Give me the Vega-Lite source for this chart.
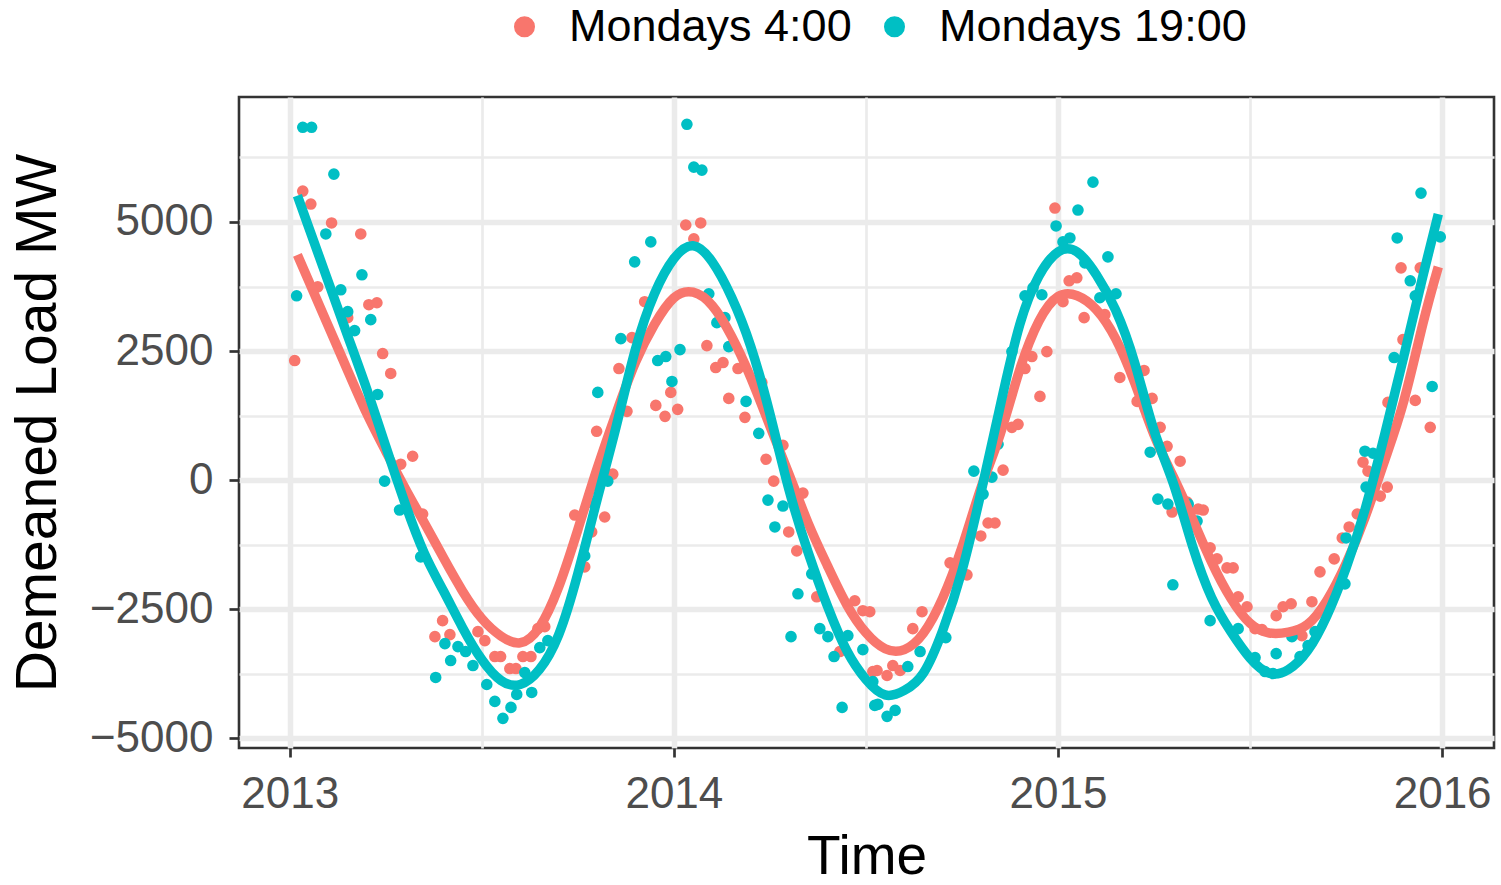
{
  "$schema": "https://vega.github.io/schema/vega-lite/v6.json",
  "width": 1255,
  "height": 651,
  "autosize": {"type": "none"},
  "padding": {"left": 239, "top": 97, "right": 7, "bottom": 137},
  "background": "white",
  "config": {
    "font": "Liberation Sans",
    "view": {"stroke": "#333333", "strokeWidth": 2.6},
    "axis": {
      "domain": false,
      "gridColor": "#EBEBEB",
      "tickColor": "#333333",
      "tickWidth": 2.7,
      "labelColor": "#4D4D4D",
      "labelFontSize": 44,
      "labelOverlap": false,
      "labelFlush": false,
      "titleColor": "#000000",
      "titleFontWeight": "normal",
      "titleFontSize": 56
    }
  },
  "datasets": {
    "points": [
      {"Time": 2013.013, "Load": 2317, "Series": "Mondays 4:00"},
      {"Time": 2013.034, "Load": 5598, "Series": "Mondays 4:00"},
      {"Time": 2013.055, "Load": 5348, "Series": "Mondays 4:00"},
      {"Time": 2013.073, "Load": 3745, "Series": "Mondays 4:00"},
      {"Time": 2013.109, "Load": 4981, "Series": "Mondays 4:00"},
      {"Time": 2013.151, "Load": 3147, "Series": "Mondays 4:00"},
      {"Time": 2013.185, "Load": 4768, "Series": "Mondays 4:00"},
      {"Time": 2013.206, "Load": 3398, "Series": "Mondays 4:00"},
      {"Time": 2013.227, "Load": 3436, "Series": "Mondays 4:00"},
      {"Time": 2013.242, "Load": 2452, "Series": "Mondays 4:00"},
      {"Time": 2013.263, "Load": 2066, "Series": "Mondays 4:00"},
      {"Time": 2013.289, "Load": 309, "Series": "Mondays 4:00"},
      {"Time": 2013.320, "Load": 463, "Series": "Mondays 4:00"},
      {"Time": 2013.346, "Load": -656, "Series": "Mondays 4:00"},
      {"Time": 2013.378, "Load": -3031, "Series": "Mondays 4:00"},
      {"Time": 2013.398, "Load": -2722, "Series": "Mondays 4:00"},
      {"Time": 2013.417, "Load": -2992, "Series": "Mondays 4:00"},
      {"Time": 2013.490, "Load": -2934, "Series": "Mondays 4:00"},
      {"Time": 2013.508, "Load": -3108, "Series": "Mondays 4:00"},
      {"Time": 2013.534, "Load": -3417, "Series": "Mondays 4:00"},
      {"Time": 2013.549, "Load": -3417, "Series": "Mondays 4:00"},
      {"Time": 2013.573, "Load": -3649, "Series": "Mondays 4:00"},
      {"Time": 2013.589, "Load": -3649, "Series": "Mondays 4:00"},
      {"Time": 2013.607, "Load": -3417, "Series": "Mondays 4:00"},
      {"Time": 2013.628, "Load": -3417, "Series": "Mondays 4:00"},
      {"Time": 2013.646, "Load": -2876, "Series": "Mondays 4:00"},
      {"Time": 2013.664, "Load": -2838, "Series": "Mondays 4:00"},
      {"Time": 2013.742, "Load": -676, "Series": "Mondays 4:00"},
      {"Time": 2013.768, "Load": -1680, "Series": "Mondays 4:00"},
      {"Time": 2013.786, "Load": -1004, "Series": "Mondays 4:00"},
      {"Time": 2013.799, "Load": 946, "Series": "Mondays 4:00"},
      {"Time": 2013.820, "Load": -714, "Series": "Mondays 4:00"},
      {"Time": 2013.841, "Load": 116, "Series": "Mondays 4:00"},
      {"Time": 2013.857, "Load": 2162, "Series": "Mondays 4:00"},
      {"Time": 2013.878, "Load": 1332, "Series": "Mondays 4:00"},
      {"Time": 2013.891, "Load": 2760, "Series": "Mondays 4:00"},
      {"Time": 2013.924, "Load": 3456, "Series": "Mondays 4:00"},
      {"Time": 2013.953, "Load": 1448, "Series": "Mondays 4:00"},
      {"Time": 2013.977, "Load": 1236, "Series": "Mondays 4:00"},
      {"Time": 2013.992, "Load": 1699, "Series": "Mondays 4:00"},
      {"Time": 2014.010, "Load": 1371, "Series": "Mondays 4:00"},
      {"Time": 2014.031, "Load": 4942, "Series": "Mondays 4:00"},
      {"Time": 2014.052, "Load": 4672, "Series": "Mondays 4:00"},
      {"Time": 2014.070, "Load": 4981, "Series": "Mondays 4:00"},
      {"Time": 2014.086, "Load": 2606, "Series": "Mondays 4:00"},
      {"Time": 2014.109, "Load": 2181, "Series": "Mondays 4:00"},
      {"Time": 2014.128, "Load": 2278, "Series": "Mondays 4:00"},
      {"Time": 2014.143, "Load": 1583, "Series": "Mondays 4:00"},
      {"Time": 2014.167, "Load": 2162, "Series": "Mondays 4:00"},
      {"Time": 2014.185, "Load": 1216, "Series": "Mondays 4:00"},
      {"Time": 2014.229, "Load": 1892, "Series": "Mondays 4:00"},
      {"Time": 2014.240, "Load": 405, "Series": "Mondays 4:00"},
      {"Time": 2014.260, "Load": -19, "Series": "Mondays 4:00"},
      {"Time": 2014.284, "Load": 676, "Series": "Mondays 4:00"},
      {"Time": 2014.299, "Load": -1004, "Series": "Mondays 4:00"},
      {"Time": 2014.320, "Load": -1371, "Series": "Mondays 4:00"},
      {"Time": 2014.336, "Load": -251, "Series": "Mondays 4:00"},
      {"Time": 2014.372, "Load": -2259, "Series": "Mondays 4:00"},
      {"Time": 2014.432, "Load": -3320, "Series": "Mondays 4:00"},
      {"Time": 2014.471, "Load": -2336, "Series": "Mondays 4:00"},
      {"Time": 2014.492, "Load": -2529, "Series": "Mondays 4:00"},
      {"Time": 2014.510, "Load": -2548, "Series": "Mondays 4:00"},
      {"Time": 2014.518, "Load": -3707, "Series": "Mondays 4:00"},
      {"Time": 2014.529, "Load": -3687, "Series": "Mondays 4:00"},
      {"Time": 2014.555, "Load": -3784, "Series": "Mondays 4:00"},
      {"Time": 2014.570, "Load": -3591, "Series": "Mondays 4:00"},
      {"Time": 2014.589, "Load": -3687, "Series": "Mondays 4:00"},
      {"Time": 2014.622, "Load": -2876, "Series": "Mondays 4:00"},
      {"Time": 2014.646, "Load": -2548, "Series": "Mondays 4:00"},
      {"Time": 2014.719, "Load": -1602, "Series": "Mondays 4:00"},
      {"Time": 2014.763, "Load": -1834, "Series": "Mondays 4:00"},
      {"Time": 2014.799, "Load": -1081, "Series": "Mondays 4:00"},
      {"Time": 2014.818, "Load": -830, "Series": "Mondays 4:00"},
      {"Time": 2014.836, "Load": -830, "Series": "Mondays 4:00"},
      {"Time": 2014.857, "Load": 193, "Series": "Mondays 4:00"},
      {"Time": 2014.880, "Load": 1023, "Series": "Mondays 4:00"},
      {"Time": 2014.896, "Load": 1081, "Series": "Mondays 4:00"},
      {"Time": 2014.914, "Load": 2162, "Series": "Mondays 4:00"},
      {"Time": 2014.932, "Load": 2394, "Series": "Mondays 4:00"},
      {"Time": 2014.953, "Load": 1622, "Series": "Mondays 4:00"},
      {"Time": 2014.971, "Load": 2490, "Series": "Mondays 4:00"},
      {"Time": 2014.992, "Load": 5270, "Series": "Mondays 4:00"},
      {"Time": 2015.013, "Load": 3456, "Series": "Mondays 4:00"},
      {"Time": 2015.029, "Load": 3861, "Series": "Mondays 4:00"},
      {"Time": 2015.049, "Load": 3919, "Series": "Mondays 4:00"},
      {"Time": 2015.068, "Load": 3147, "Series": "Mondays 4:00"},
      {"Time": 2015.122, "Load": 3205, "Series": "Mondays 4:00"},
      {"Time": 2015.161, "Load": 1988, "Series": "Mondays 4:00"},
      {"Time": 2015.206, "Load": 1525, "Series": "Mondays 4:00"},
      {"Time": 2015.224, "Load": 2124, "Series": "Mondays 4:00"},
      {"Time": 2015.245, "Load": 1583, "Series": "Mondays 4:00"},
      {"Time": 2015.266, "Load": 1023, "Series": "Mondays 4:00"},
      {"Time": 2015.284, "Load": 656, "Series": "Mondays 4:00"},
      {"Time": 2015.297, "Load": -618, "Series": "Mondays 4:00"},
      {"Time": 2015.318, "Load": 367, "Series": "Mondays 4:00"},
      {"Time": 2015.336, "Load": -425, "Series": "Mondays 4:00"},
      {"Time": 2015.365, "Load": -560, "Series": "Mondays 4:00"},
      {"Time": 2015.378, "Load": -579, "Series": "Mondays 4:00"},
      {"Time": 2015.396, "Load": -1313, "Series": "Mondays 4:00"},
      {"Time": 2015.414, "Load": -1525, "Series": "Mondays 4:00"},
      {"Time": 2015.440, "Load": -1699, "Series": "Mondays 4:00"},
      {"Time": 2015.456, "Load": -1699, "Series": "Mondays 4:00"},
      {"Time": 2015.469, "Load": -2259, "Series": "Mondays 4:00"},
      {"Time": 2015.492, "Load": -2452, "Series": "Mondays 4:00"},
      {"Time": 2015.513, "Load": -2876, "Series": "Mondays 4:00"},
      {"Time": 2015.531, "Load": -2896, "Series": "Mondays 4:00"},
      {"Time": 2015.568, "Load": -2625, "Series": "Mondays 4:00"},
      {"Time": 2015.586, "Load": -2452, "Series": "Mondays 4:00"},
      {"Time": 2015.607, "Load": -2394, "Series": "Mondays 4:00"},
      {"Time": 2015.635, "Load": -3011, "Series": "Mondays 4:00"},
      {"Time": 2015.661, "Load": -2355, "Series": "Mondays 4:00"},
      {"Time": 2015.682, "Load": -1776, "Series": "Mondays 4:00"},
      {"Time": 2015.719, "Load": -1525, "Series": "Mondays 4:00"},
      {"Time": 2015.740, "Load": -1120, "Series": "Mondays 4:00"},
      {"Time": 2015.758, "Load": -907, "Series": "Mondays 4:00"},
      {"Time": 2015.779, "Load": -656, "Series": "Mondays 4:00"},
      {"Time": 2015.794, "Load": 347, "Series": "Mondays 4:00"},
      {"Time": 2015.807, "Load": 174, "Series": "Mondays 4:00"},
      {"Time": 2015.839, "Load": -309, "Series": "Mondays 4:00"},
      {"Time": 2015.857, "Load": -135, "Series": "Mondays 4:00"},
      {"Time": 2015.859, "Load": 1506, "Series": "Mondays 4:00"},
      {"Time": 2015.893, "Load": 4112, "Series": "Mondays 4:00"},
      {"Time": 2015.898, "Load": 2722, "Series": "Mondays 4:00"},
      {"Time": 2015.930, "Load": 1544, "Series": "Mondays 4:00"},
      {"Time": 2015.943, "Load": 4112, "Series": "Mondays 4:00"},
      {"Time": 2015.969, "Load": 1023, "Series": "Mondays 4:00"},

      {"Time": 2013.018, "Load": 3571, "Series": "Mondays 19:00"},
      {"Time": 2013.034, "Load": 6834, "Series": "Mondays 19:00"},
      {"Time": 2013.057, "Load": 6834, "Series": "Mondays 19:00"},
      {"Time": 2013.094, "Load": 4768, "Series": "Mondays 19:00"},
      {"Time": 2013.115, "Load": 5927, "Series": "Mondays 19:00"},
      {"Time": 2013.133, "Load": 3687, "Series": "Mondays 19:00"},
      {"Time": 2013.151, "Load": 3263, "Series": "Mondays 19:00"},
      {"Time": 2013.169, "Load": 2896, "Series": "Mondays 19:00"},
      {"Time": 2013.188, "Load": 3977, "Series": "Mondays 19:00"},
      {"Time": 2013.211, "Load": 3108, "Series": "Mondays 19:00"},
      {"Time": 2013.229, "Load": 1660, "Series": "Mondays 19:00"},
      {"Time": 2013.247, "Load": -19, "Series": "Mondays 19:00"},
      {"Time": 2013.286, "Load": -579, "Series": "Mondays 19:00"},
      {"Time": 2013.341, "Load": -1486, "Series": "Mondays 19:00"},
      {"Time": 2013.380, "Load": -3822, "Series": "Mondays 19:00"},
      {"Time": 2013.404, "Load": -3166, "Series": "Mondays 19:00"},
      {"Time": 2013.419, "Load": -3494, "Series": "Mondays 19:00"},
      {"Time": 2013.438, "Load": -3224, "Series": "Mondays 19:00"},
      {"Time": 2013.458, "Load": -3320, "Series": "Mondays 19:00"},
      {"Time": 2013.477, "Load": -3591, "Series": "Mondays 19:00"},
      {"Time": 2013.513, "Load": -3958, "Series": "Mondays 19:00"},
      {"Time": 2013.534, "Load": -4286, "Series": "Mondays 19:00"},
      {"Time": 2013.555, "Load": -4614, "Series": "Mondays 19:00"},
      {"Time": 2013.576, "Load": -4402, "Series": "Mondays 19:00"},
      {"Time": 2013.591, "Load": -4151, "Series": "Mondays 19:00"},
      {"Time": 2013.612, "Load": -3726, "Series": "Mondays 19:00"},
      {"Time": 2013.630, "Load": -4112, "Series": "Mondays 19:00"},
      {"Time": 2013.651, "Load": -3243, "Series": "Mondays 19:00"},
      {"Time": 2013.672, "Load": -3108, "Series": "Mondays 19:00"},
      {"Time": 2013.768, "Load": -1467, "Series": "Mondays 19:00"},
      {"Time": 2013.779, "Load": -425, "Series": "Mondays 19:00"},
      {"Time": 2013.802, "Load": 1699, "Series": "Mondays 19:00"},
      {"Time": 2013.828, "Load": -19, "Series": "Mondays 19:00"},
      {"Time": 2013.862, "Load": 2741, "Series": "Mondays 19:00"},
      {"Time": 2013.898, "Load": 4228, "Series": "Mondays 19:00"},
      {"Time": 2013.940, "Load": 4614, "Series": "Mondays 19:00"},
      {"Time": 2013.958, "Load": 2317, "Series": "Mondays 19:00"},
      {"Time": 2013.979, "Load": 2394, "Series": "Mondays 19:00"},
      {"Time": 2013.995, "Load": 1911, "Series": "Mondays 19:00"},
      {"Time": 2014.016, "Load": 2529, "Series": "Mondays 19:00"},
      {"Time": 2014.034, "Load": 6892, "Series": "Mondays 19:00"},
      {"Time": 2014.052, "Load": 6062, "Series": "Mondays 19:00"},
      {"Time": 2014.073, "Load": 6004, "Series": "Mondays 19:00"},
      {"Time": 2014.091, "Load": 3610, "Series": "Mondays 19:00"},
      {"Time": 2014.112, "Load": 3050, "Series": "Mondays 19:00"},
      {"Time": 2014.133, "Load": 3147, "Series": "Mondays 19:00"},
      {"Time": 2014.143, "Load": 2587, "Series": "Mondays 19:00"},
      {"Time": 2014.188, "Load": 1525, "Series": "Mondays 19:00"},
      {"Time": 2014.221, "Load": 907, "Series": "Mondays 19:00"},
      {"Time": 2014.245, "Load": -386, "Series": "Mondays 19:00"},
      {"Time": 2014.263, "Load": -907, "Series": "Mondays 19:00"},
      {"Time": 2014.284, "Load": -502, "Series": "Mondays 19:00"},
      {"Time": 2014.305, "Load": -3031, "Series": "Mondays 19:00"},
      {"Time": 2014.323, "Load": -2201, "Series": "Mondays 19:00"},
      {"Time": 2014.359, "Load": -1815, "Series": "Mondays 19:00"},
      {"Time": 2014.380, "Load": -2876, "Series": "Mondays 19:00"},
      {"Time": 2014.401, "Load": -3031, "Series": "Mondays 19:00"},
      {"Time": 2014.417, "Load": -3417, "Series": "Mondays 19:00"},
      {"Time": 2014.438, "Load": -4402, "Series": "Mondays 19:00"},
      {"Time": 2014.453, "Load": -3011, "Series": "Mondays 19:00"},
      {"Time": 2014.492, "Load": -3282, "Series": "Mondays 19:00"},
      {"Time": 2014.518, "Load": -3900, "Series": "Mondays 19:00"},
      {"Time": 2014.523, "Load": -4363, "Series": "Mondays 19:00"},
      {"Time": 2014.531, "Load": -4344, "Series": "Mondays 19:00"},
      {"Time": 2014.555, "Load": -4575, "Series": "Mondays 19:00"},
      {"Time": 2014.576, "Load": -4460, "Series": "Mondays 19:00"},
      {"Time": 2014.609, "Load": -3610, "Series": "Mondays 19:00"},
      {"Time": 2014.641, "Load": -3320, "Series": "Mondays 19:00"},
      {"Time": 2014.708, "Load": -3050, "Series": "Mondays 19:00"},
      {"Time": 2014.781, "Load": 174, "Series": "Mondays 19:00"},
      {"Time": 2014.805, "Load": -270, "Series": "Mondays 19:00"},
      {"Time": 2014.828, "Load": 58, "Series": "Mondays 19:00"},
      {"Time": 2014.844, "Load": 695, "Series": "Mondays 19:00"},
      {"Time": 2014.880, "Load": 2490, "Series": "Mondays 19:00"},
      {"Time": 2014.914, "Load": 3571, "Series": "Mondays 19:00"},
      {"Time": 2014.935, "Load": 3726, "Series": "Mondays 19:00"},
      {"Time": 2014.958, "Load": 3591, "Series": "Mondays 19:00"},
      {"Time": 2014.995, "Load": 4923, "Series": "Mondays 19:00"},
      {"Time": 2015.013, "Load": 4614, "Series": "Mondays 19:00"},
      {"Time": 2015.031, "Load": 4691, "Series": "Mondays 19:00"},
      {"Time": 2015.052, "Load": 5232, "Series": "Mondays 19:00"},
      {"Time": 2015.070, "Load": 4209, "Series": "Mondays 19:00"},
      {"Time": 2015.091, "Load": 5772, "Series": "Mondays 19:00"},
      {"Time": 2015.109, "Load": 3533, "Series": "Mondays 19:00"},
      {"Time": 2015.130, "Load": 4324, "Series": "Mondays 19:00"},
      {"Time": 2015.151, "Load": 3610, "Series": "Mondays 19:00"},
      {"Time": 2015.240, "Load": 541, "Series": "Mondays 19:00"},
      {"Time": 2015.260, "Load": -367, "Series": "Mondays 19:00"},
      {"Time": 2015.286, "Load": -463, "Series": "Mondays 19:00"},
      {"Time": 2015.299, "Load": -2027, "Series": "Mondays 19:00"},
      {"Time": 2015.339, "Load": -463, "Series": "Mondays 19:00"},
      {"Time": 2015.362, "Load": -792, "Series": "Mondays 19:00"},
      {"Time": 2015.396, "Load": -2722, "Series": "Mondays 19:00"},
      {"Time": 2015.469, "Load": -2876, "Series": "Mondays 19:00"},
      {"Time": 2015.513, "Load": -3436, "Series": "Mondays 19:00"},
      {"Time": 2015.539, "Load": -3707, "Series": "Mondays 19:00"},
      {"Time": 2015.560, "Load": -3745, "Series": "Mondays 19:00"},
      {"Time": 2015.568, "Load": -3359, "Series": "Mondays 19:00"},
      {"Time": 2015.609, "Load": -3031, "Series": "Mondays 19:00"},
      {"Time": 2015.630, "Load": -3417, "Series": "Mondays 19:00"},
      {"Time": 2015.651, "Load": -3205, "Series": "Mondays 19:00"},
      {"Time": 2015.669, "Load": -2934, "Series": "Mondays 19:00"},
      {"Time": 2015.747, "Load": -2008, "Series": "Mondays 19:00"},
      {"Time": 2015.750, "Load": -1120, "Series": "Mondays 19:00"},
      {"Time": 2015.799, "Load": 560, "Series": "Mondays 19:00"},
      {"Time": 2015.802, "Load": -135, "Series": "Mondays 19:00"},
      {"Time": 2015.820, "Load": 521, "Series": "Mondays 19:00"},
      {"Time": 2015.875, "Load": 2375, "Series": "Mondays 19:00"},
      {"Time": 2015.883, "Load": 4691, "Series": "Mondays 19:00"},
      {"Time": 2015.917, "Load": 3861, "Series": "Mondays 19:00"},
      {"Time": 2015.930, "Load": 3571, "Series": "Mondays 19:00"},
      {"Time": 2015.945, "Load": 5560, "Series": "Mondays 19:00"},
      {"Time": 2015.974, "Load": 1815, "Series": "Mondays 19:00"},
      {"Time": 2015.995, "Load": 4711, "Series": "Mondays 19:00"}
    ],
    "fits": [
      {"Time": 2013.02, "Load": 4363, "Series": "Mondays 4:00"},
      {"Time": 2013.05, "Load": 3851, "Series": "Mondays 4:00"},
      {"Time": 2013.10, "Load": 2994, "Series": "Mondays 4:00"},
      {"Time": 2013.15, "Load": 2137, "Series": "Mondays 4:00"},
      {"Time": 2013.20, "Load": 1300, "Series": "Mondays 4:00"},
      {"Time": 2013.25, "Load": 560, "Series": "Mondays 4:00"},
      {"Time": 2013.30, "Load": -150, "Series": "Mondays 4:00"},
      {"Time": 2013.35, "Load": -820, "Series": "Mondays 4:00"},
      {"Time": 2013.40, "Load": -1500, "Series": "Mondays 4:00"},
      {"Time": 2013.45, "Load": -2150, "Series": "Mondays 4:00"},
      {"Time": 2013.50, "Load": -2680, "Series": "Mondays 4:00"},
      {"Time": 2013.55, "Load": -3020, "Series": "Mondays 4:00"},
      {"Time": 2013.60, "Load": -3150, "Series": "Mondays 4:00"},
      {"Time": 2013.65, "Load": -2850, "Series": "Mondays 4:00"},
      {"Time": 2013.70, "Load": -2070, "Series": "Mondays 4:00"},
      {"Time": 2013.75, "Load": -960, "Series": "Mondays 4:00"},
      {"Time": 2013.80, "Load": 220, "Series": "Mondays 4:00"},
      {"Time": 2013.85, "Load": 1300, "Series": "Mondays 4:00"},
      {"Time": 2013.90, "Load": 2280, "Series": "Mondays 4:00"},
      {"Time": 2013.95, "Load": 3020, "Series": "Mondays 4:00"},
      {"Time": 2014.00, "Load": 3530, "Series": "Mondays 4:00"},
      {"Time": 2014.05, "Load": 3640, "Series": "Mondays 4:00"},
      {"Time": 2014.10, "Load": 3380, "Series": "Mondays 4:00"},
      {"Time": 2014.15, "Load": 2790, "Series": "Mondays 4:00"},
      {"Time": 2014.20, "Load": 1990, "Series": "Mondays 4:00"},
      {"Time": 2014.25, "Load": 1050, "Series": "Mondays 4:00"},
      {"Time": 2014.30, "Load": 110, "Series": "Mondays 4:00"},
      {"Time": 2014.35, "Load": -840, "Series": "Mondays 4:00"},
      {"Time": 2014.40, "Load": -1660, "Series": "Mondays 4:00"},
      {"Time": 2014.45, "Load": -2410, "Series": "Mondays 4:00"},
      {"Time": 2014.50, "Load": -2955, "Series": "Mondays 4:00"},
      {"Time": 2014.55, "Load": -3265, "Series": "Mondays 4:00"},
      {"Time": 2014.60, "Load": -3282, "Series": "Mondays 4:00"},
      {"Time": 2014.65, "Load": -2960, "Series": "Mondays 4:00"},
      {"Time": 2014.70, "Load": -2280, "Series": "Mondays 4:00"},
      {"Time": 2014.75, "Load": -1300, "Series": "Mondays 4:00"},
      {"Time": 2014.80, "Load": -140, "Series": "Mondays 4:00"},
      {"Time": 2014.85, "Load": 900, "Series": "Mondays 4:00"},
      {"Time": 2014.90, "Load": 2130, "Series": "Mondays 4:00"},
      {"Time": 2014.95, "Load": 3075, "Series": "Mondays 4:00"},
      {"Time": 2015.00, "Load": 3555, "Series": "Mondays 4:00"},
      {"Time": 2015.05, "Load": 3571, "Series": "Mondays 4:00"},
      {"Time": 2015.10, "Load": 3301, "Series": "Mondays 4:00"},
      {"Time": 2015.15, "Load": 2741, "Series": "Mondays 4:00"},
      {"Time": 2015.20, "Load": 1878, "Series": "Mondays 4:00"},
      {"Time": 2015.25, "Load": 875, "Series": "Mondays 4:00"},
      {"Time": 2015.30, "Load": 69, "Series": "Mondays 4:00"},
      {"Time": 2015.35, "Load": -751, "Series": "Mondays 4:00"},
      {"Time": 2015.40, "Load": -1591, "Series": "Mondays 4:00"},
      {"Time": 2015.45, "Load": -2290, "Series": "Mondays 4:00"},
      {"Time": 2015.50, "Load": -2772, "Series": "Mondays 4:00"},
      {"Time": 2015.55, "Load": -2960, "Series": "Mondays 4:00"},
      {"Time": 2015.60, "Load": -2944, "Series": "Mondays 4:00"},
      {"Time": 2015.65, "Load": -2791, "Series": "Mondays 4:00"},
      {"Time": 2015.70, "Load": -2330, "Series": "Mondays 4:00"},
      {"Time": 2015.75, "Load": -1614, "Series": "Mondays 4:00"},
      {"Time": 2015.80, "Load": -707, "Series": "Mondays 4:00"},
      {"Time": 2015.85, "Load": 373, "Series": "Mondays 4:00"},
      {"Time": 2015.90, "Load": 1529, "Series": "Mondays 4:00"},
      {"Time": 2015.95, "Load": 3031, "Series": "Mondays 4:00"},
      {"Time": 2015.99, "Load": 4131, "Series": "Mondays 4:00"},

      {"Time": 2013.02, "Load": 5510, "Series": "Mondays 19:00"},
      {"Time": 2013.05, "Load": 4888, "Series": "Mondays 19:00"},
      {"Time": 2013.10, "Load": 3849, "Series": "Mondays 19:00"},
      {"Time": 2013.15, "Load": 2813, "Series": "Mondays 19:00"},
      {"Time": 2013.20, "Load": 1774, "Series": "Mondays 19:00"},
      {"Time": 2013.25, "Load": 656, "Series": "Mondays 19:00"},
      {"Time": 2013.30, "Load": -444, "Series": "Mondays 19:00"},
      {"Time": 2013.35, "Load": -1409, "Series": "Mondays 19:00"},
      {"Time": 2013.40, "Load": -2143, "Series": "Mondays 19:00"},
      {"Time": 2013.45, "Load": -2857, "Series": "Mondays 19:00"},
      {"Time": 2013.50, "Load": -3475, "Series": "Mondays 19:00"},
      {"Time": 2013.55, "Load": -3880, "Series": "Mondays 19:00"},
      {"Time": 2013.60, "Load": -3958, "Series": "Mondays 19:00"},
      {"Time": 2013.65, "Load": -3668, "Series": "Mondays 19:00"},
      {"Time": 2013.70, "Load": -3000, "Series": "Mondays 19:00"},
      {"Time": 2013.75, "Load": -1815, "Series": "Mondays 19:00"},
      {"Time": 2013.80, "Load": -380, "Series": "Mondays 19:00"},
      {"Time": 2013.85, "Load": 1042, "Series": "Mondays 19:00"},
      {"Time": 2013.90, "Load": 2533, "Series": "Mondays 19:00"},
      {"Time": 2013.95, "Load": 3618, "Series": "Mondays 19:00"},
      {"Time": 2014.00, "Load": 4290, "Series": "Mondays 19:00"},
      {"Time": 2014.05, "Load": 4541, "Series": "Mondays 19:00"},
      {"Time": 2014.10, "Load": 4228, "Series": "Mondays 19:00"},
      {"Time": 2014.15, "Load": 3548, "Series": "Mondays 19:00"},
      {"Time": 2014.20, "Load": 2595, "Series": "Mondays 19:00"},
      {"Time": 2014.25, "Load": 1286, "Series": "Mondays 19:00"},
      {"Time": 2014.30, "Load": -193, "Series": "Mondays 19:00"},
      {"Time": 2014.35, "Load": -1409, "Series": "Mondays 19:00"},
      {"Time": 2014.40, "Load": -2444, "Series": "Mondays 19:00"},
      {"Time": 2014.45, "Load": -3301, "Series": "Mondays 19:00"},
      {"Time": 2014.50, "Load": -3861, "Series": "Mondays 19:00"},
      {"Time": 2014.55, "Load": -4160, "Series": "Mondays 19:00"},
      {"Time": 2014.60, "Load": -4073, "Series": "Mondays 19:00"},
      {"Time": 2014.65, "Load": -3732, "Series": "Mondays 19:00"},
      {"Time": 2014.70, "Load": -2909, "Series": "Mondays 19:00"},
      {"Time": 2014.75, "Load": -1757, "Series": "Mondays 19:00"},
      {"Time": 2014.80, "Load": -222, "Series": "Mondays 19:00"},
      {"Time": 2014.85, "Load": 1450, "Series": "Mondays 19:00"},
      {"Time": 2014.90, "Load": 3000, "Series": "Mondays 19:00"},
      {"Time": 2014.95, "Load": 3950, "Series": "Mondays 19:00"},
      {"Time": 2015.00, "Load": 4420, "Series": "Mondays 19:00"},
      {"Time": 2015.05, "Load": 4420, "Series": "Mondays 19:00"},
      {"Time": 2015.10, "Load": 3977, "Series": "Mondays 19:00"},
      {"Time": 2015.15, "Load": 3295, "Series": "Mondays 19:00"},
      {"Time": 2015.20, "Load": 2264, "Series": "Mondays 19:00"},
      {"Time": 2015.25, "Load": 960, "Series": "Mondays 19:00"},
      {"Time": 2015.30, "Load": -58, "Series": "Mondays 19:00"},
      {"Time": 2015.35, "Load": -1274, "Series": "Mondays 19:00"},
      {"Time": 2015.40, "Load": -2278, "Series": "Mondays 19:00"},
      {"Time": 2015.45, "Load": -2934, "Series": "Mondays 19:00"},
      {"Time": 2015.50, "Load": -3448, "Series": "Mondays 19:00"},
      {"Time": 2015.55, "Load": -3740, "Series": "Mondays 19:00"},
      {"Time": 2015.60, "Load": -3668, "Series": "Mondays 19:00"},
      {"Time": 2015.65, "Load": -3301, "Series": "Mondays 19:00"},
      {"Time": 2015.70, "Load": -2625, "Series": "Mondays 19:00"},
      {"Time": 2015.75, "Load": -1699, "Series": "Mondays 19:00"},
      {"Time": 2015.80, "Load": -548, "Series": "Mondays 19:00"},
      {"Time": 2015.85, "Load": 870, "Series": "Mondays 19:00"},
      {"Time": 2015.90, "Load": 2394, "Series": "Mondays 19:00"},
      {"Time": 2015.95, "Load": 3958, "Series": "Mondays 19:00"},
      {"Time": 2015.99, "Load": 5154, "Series": "Mondays 19:00"}
    ]
  },
  "encoding": {
    "x": {
      "field": "Time",
      "type": "quantitative",
      "scale": {"domain": [2012.868, 2016.135], "nice": false, "zero": false},
      "axis": {
        "title": "Time",
        "values": [2013, 2013.5, 2014, 2014.5, 2015, 2015.5, 2016],
        "labelExpr": "datum.value % 1 === 0 ? format(datum.value, 'd') : ''",
        "tickOpacity": {"condition": {"test": "datum.value % 1 === 0", "value": 1}, "value": 0},
        "gridWidth": {"condition": {"test": "datum.value % 1 === 0", "value": 5.5}, "value": 2.7},
        "tickSize": 9,
        "labelPadding": 15,
        "titleFontSize": 55,
        "titleBaseline": "alphabetic",
        "titleY": 125
      }
    },
    "y": {
      "field": "Load",
      "type": "quantitative",
      "scale": {"domain": [-5188, 7421], "nice": false, "zero": false},
      "axis": {
        "title": "Demeaned Load MW",
        "values": [-5000, -3750, -2500, -1250, 0, 1250, 2500, 3750, 5000, 6250],
        "labelExpr": "datum.value % 2500 === 0 ? format(datum.value, 'd') : ''",
        "tickOpacity": {"condition": {"test": "datum.value % 2500 === 0", "value": 1}, "value": 0},
        "gridWidth": {"condition": {"test": "datum.value % 2500 === 0", "value": 5.5}, "value": 2.7},
        "tickSize": 10,
        "labelPadding": 16,
        "titleFontSize": 57,
        "titleBaseline": "alphabetic",
        "titleX": -184
      }
    }
  },
  "layer": [
    {
      "data": {"name": "points"},
      "mark": {"type": "circle", "size": 135, "opacity": 1},
      "encoding": {
        "color": {
          "field": "Series",
          "type": "nominal",
          "scale": {"domain": ["Mondays 4:00", "Mondays 19:00"], "range": ["#F8766D", "#00BFC4"]},
          "legend": {
            "title": null,
            "orient": "none",
            "legendX": 263,
            "legendY": -93,
            "direction": "horizontal",
            "symbolType": "circle",
            "symbolSize": 380,
            "symbolOpacity": 1,
            "labelFontSize": 45,
            "labelColor": "#000000",
            "labelLimit": 0,
            "labelOffset": 22,
            "columnPadding": 20,
            "padding": 0
          }
        }
      }
    },
    {
      "data": {"name": "fits"},
      "mark": {"type": "line", "strokeWidth": 9.5, "interpolate": "natural"},
      "encoding": {
        "color": {
          "field": "Series",
          "type": "nominal",
          "scale": {"domain": ["Mondays 4:00", "Mondays 19:00"], "range": ["#F8766D", "#00BFC4"]},
          "legend": null
        }
      }
    }
  ]
}
